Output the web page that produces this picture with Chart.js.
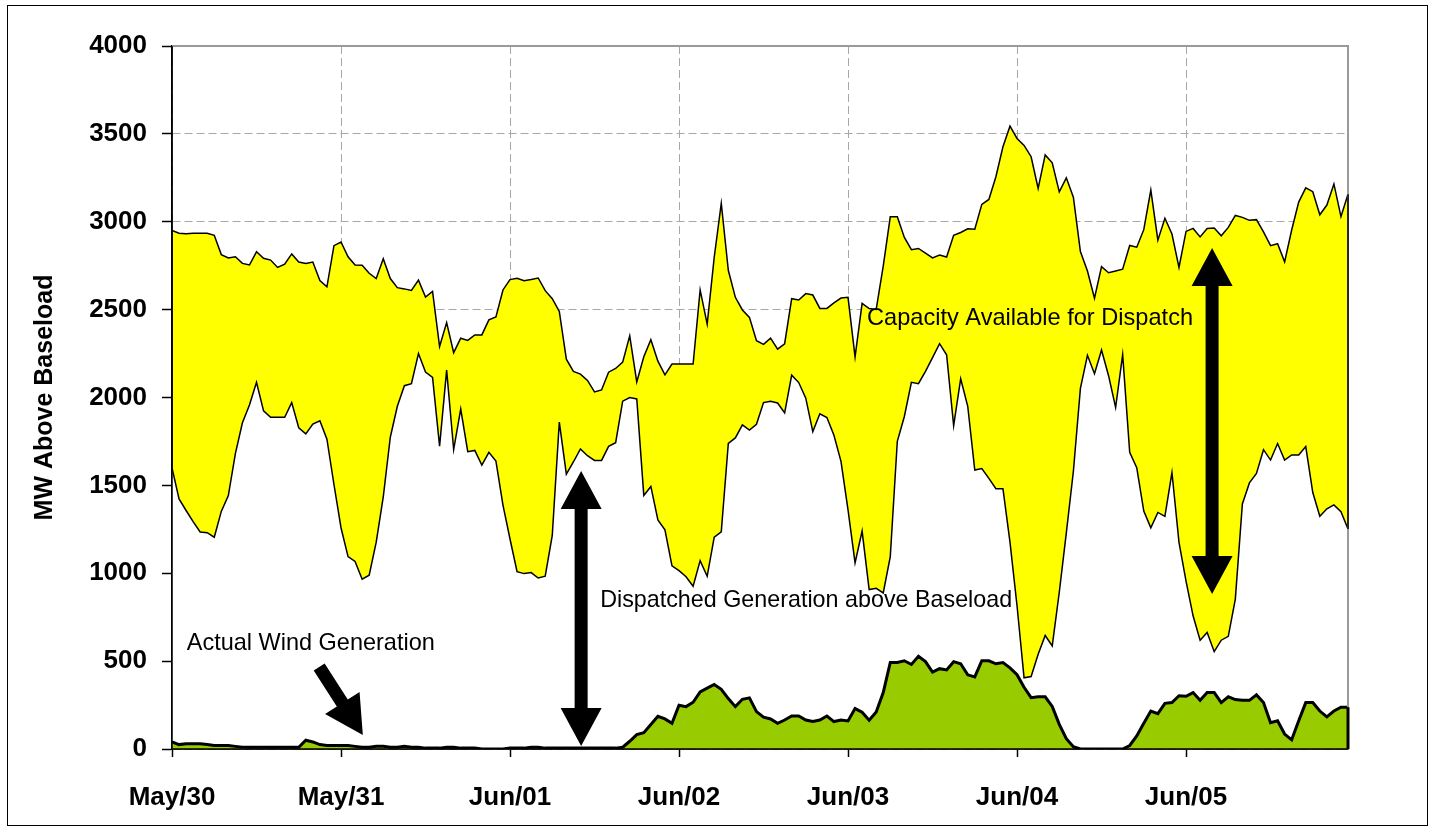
<!DOCTYPE html>
<html>
<head>
<meta charset="utf-8">
<title>MW Above Baseload</title>
<script src="https://cdn.jsdelivr.net/npm/chart.js@4.4.1/dist/chart.umd.min.js"></script>
<style>
  html, body { margin: 0; padding: 0; background: #fff; }
  canvas { display: block; }
</style>
</head>
<body>
<canvas id="chart" width="1432" height="829"></canvas>
<script>
// hourly values, May 30 00:00 .. Jun 05 23:00
const dayLabels = ['May/30', 'May/31', 'Jun/01', 'Jun/02', 'Jun/03', 'Jun/04', 'Jun/05'];

const capacityTop = [
  2950, 2935, 2932, 2935, 2935, 2935, 2923, 2813, 2794, 2801, 2763, 2754, 2829, 2792, 2782, 2740, 2759, 2817, 2771, 2763, 2771, 2665, 2630, 2864,
  2885, 2801, 2754, 2752, 2707, 2677, 2790, 2677, 2625, 2618, 2609, 2668, 2571, 2604, 2290, 2426, 2255, 2337, 2325, 2356, 2356, 2442, 2459, 2612,
  2671, 2678, 2665, 2671, 2680, 2608, 2562, 2490, 2218, 2148, 2133, 2097, 2032, 2043, 2144, 2165, 2201, 2351, 2089, 2232, 2329, 2207, 2129, 2190,
  2190, 2190, 2190, 2612, 2418, 2798, 3104, 2724, 2570, 2498, 2456, 2323, 2302, 2338, 2275, 2306, 2562, 2555, 2591, 2583, 2507, 2507, 2538, 2566,
  2570, 2231, 2536, 2506, 2501, 2747, 3028, 3028, 2911, 2841, 2848, 2822, 2794, 2810, 2799, 2923, 2939, 2960, 2958, 3099, 3127, 3256, 3427, 3544,
  3474, 3434, 3370, 3190, 3380, 3335, 3170, 3250, 3140, 2830, 2720, 2565, 2745, 2710, 2720, 2730, 2865, 2855, 2955, 3180, 2895, 3020, 2930, 2740,
  2945, 2962, 2914, 2962, 2964, 2920, 2968, 3036, 3025, 3008, 3012, 2942, 2864, 2875, 2772, 2953, 3112, 3193, 3171, 3040, 3095, 3215, 3029, 3156
];

const dispatched = [
  1599, 1423, 1357, 1294, 1235, 1231, 1205, 1352, 1442, 1681, 1856, 1957, 2086, 1924, 1887, 1887, 1887, 1971, 1828, 1793, 1849, 1868, 1763, 1505,
  1259, 1095, 1067, 966, 989, 1177, 1434, 1774, 1950, 2067, 2079, 2250, 2145, 2114, 1723, 2156, 1704, 1934, 1692, 1699, 1615, 1688, 1638, 1388,
  1195, 1009, 998, 1004, 973, 983, 1215, 1860, 1564, 1633, 1707, 1669, 1642, 1642, 1722, 1743, 1979, 2000, 1992, 1443, 1494, 1304, 1247, 1042,
  1015, 980, 926, 1072, 983, 1205, 1236, 1739, 1770, 1844, 1815, 1848, 1971, 1979, 1969, 1912, 2127, 2085, 1996, 1806, 1907, 1886, 1785, 1637,
  1360, 1059, 1240, 907, 914, 888, 1095, 1751, 1892, 2086, 2079, 2149, 2227, 2306, 2243, 1840, 2107, 1950, 1587, 1596, 1540, 1481, 1481, 1177,
  815, 405, 412, 539, 646, 587, 892, 1230, 1579, 2052, 2240, 2135, 2270, 2124, 1943, 2244, 1688, 1601, 1354, 1258, 1346, 1324, 1573, 1176,
  955, 758, 619, 663, 554, 619, 641, 853, 1394, 1514, 1568, 1703, 1644, 1738, 1644, 1673, 1673, 1721, 1459, 1324, 1367, 1389, 1350, 1252
];

const windGen = [
  40, 25, 30, 30, 30, 25, 20, 20, 20, 15, 10, 10, 10, 10, 10, 10, 10, 10, 10, 50, 40, 25, 20, 20,
  20, 20, 15, 10, 10, 15, 15, 10, 10, 15, 10, 10, 5, 5, 5, 10, 10, 5, 5, 5, 0, 0, 0, 0,
  5, 5, 5, 10, 10, 5, 5, 5, 5, 5, 5, 5, 5, 5, 5, 5, 10, 44, 82, 93, 139, 186, 171, 146,
  249, 241, 266, 325, 346, 367, 340, 287, 241, 283, 291, 213, 181, 171, 146, 165, 188, 188, 165, 156, 165, 188, 156, 165,
  160, 230, 209, 164, 211, 321, 492, 492, 502, 481, 527, 497, 438, 457, 450, 497, 485, 422, 410, 502, 502, 485, 492, 462,
  423, 351, 292, 297, 297, 242, 140, 59, 13, 0, 0, 0, 0, 0, 0, 0, 20, 74, 146, 216, 201, 260, 264, 303,
  300, 321, 277, 321, 321, 264, 297, 281, 277, 277, 308, 264, 150, 161, 85, 52, 161, 264, 264, 216, 183, 216, 238, 238
];

const hours = dispatched.map((_, i) => i);
const HOURS_PER_DAY = 24;

// annotation anchors in data units (hour, MW)
const notes = [
  { text: 'Capacity Available for Dispatch', h: 98.7, v: 2413, width: 326 },
  { text: 'Dispatched Generation above Baseload', h: 60.8, v: 808, width: 412 },
  { text: 'Actual Wind Generation', h: 2.1, v: 563, width: 248 }
];
const arrows = [
  { h1: 58.1, v1: 1582, h2: 58.1, v2: 17, both: true },
  { h1: 147.7, v1: 2851, h2: 147.7, v2: 882, both: true },
  { h1: 20.9, v1: 467, h2: 27.1, v2: 80, both: false }
];

const FONT = "'Liberation Sans', Arial, sans-serif";

function drawArrow(ctx, x1, y1, x2, y2, both) {
  const len = Math.hypot(x2 - x1, y2 - y1);
  const ux = (x2 - x1) / len, uy = (y2 - y1) / len;
  const nx = -uy, ny = ux;
  const L = 38, W = 20.5, w = 6.5;
  const p = (d, s) => [x1 + ux * d + nx * s, y1 + uy * d + ny * s];
  const pts = [];
  if (both) pts.push(p(0, 0), p(L, W), p(L, w)); else pts.push(p(0, w));
  pts.push(p(len - L, w), p(len - L, W), p(len, 0), p(len - L, -W), p(len - L, -w));
  if (both) pts.push(p(L, -w), p(L, -W)); else pts.push(p(0, -w));
  ctx.beginPath();
  pts.forEach(([px, py], i) => i ? ctx.lineTo(px, py) : ctx.moveTo(px, py));
  ctx.closePath();
  ctx.fill();
}

const overlay = {
  id: 'overlay',
  afterDatasetsDraw(chart) {
    const { ctx, chartArea: a, scales: { x, y } } = chart;
    const last = hours.length - 1;
    const xr = x.getPixelForValue(last);
    ctx.save();
    // plot area frame (top / right)
    ctx.strokeStyle = '#9a9a9a';
    ctx.lineWidth = 2;
    ctx.beginPath();
    ctx.moveTo(a.left, a.top);
    ctx.lineTo(a.right, a.top);
    ctx.lineTo(a.right, a.bottom);
    ctx.stroke();
    // closing edges of the areas
    ctx.strokeStyle = '#000';
    ctx.lineWidth = 1.5;
    ctx.beginPath();
    ctx.moveTo(xr, y.getPixelForValue(capacityTop[last]));
    ctx.lineTo(xr, y.getPixelForValue(dispatched[last]));
    ctx.moveTo(a.left, y.getPixelForValue(capacityTop[0]));
    ctx.lineTo(a.left, y.getPixelForValue(dispatched[0]));
    ctx.stroke();
    ctx.lineWidth = 3;
    ctx.beginPath();
    ctx.moveTo(xr, y.getPixelForValue(windGen[last]));
    ctx.lineTo(xr, y.getPixelForValue(0));
    ctx.stroke();
    // axis lines on top
    ctx.lineWidth = 1.5;
    ctx.beginPath();
    ctx.moveTo(a.left, a.top);
    ctx.lineTo(a.left, a.bottom);
    ctx.lineTo(a.right, a.bottom);
    ctx.stroke();

    // arrows and labels
    ctx.fillStyle = '#000';
    arrows.forEach(r => drawArrow(ctx,
      x.getPixelForValue(r.h1), y.getPixelForValue(r.v1),
      x.getPixelForValue(r.h2), y.getPixelForValue(r.v2), r.both));
    ctx.font = '24px ' + FONT;
    ctx.textBaseline = 'alphabetic';
    ctx.textAlign = 'left';
    notes.forEach(n => ctx.fillText(n.text, x.getPixelForValue(n.h), y.getPixelForValue(n.v), n.width));
    ctx.restore();
  },
  afterDraw(chart) {
    const { ctx } = chart;
    ctx.save();
    ctx.strokeStyle = '#000';
    ctx.lineWidth = 1;
    ctx.strokeRect(7.5, 5.5, 1420, 820);
    ctx.restore();
  }
};

new Chart(document.getElementById('chart'), {
  type: 'line',
  data: {
    labels: hours,
    datasets: [
      {
        label: 'Actual Wind Generation',
        data: windGen,
        borderColor: '#000',
        borderWidth: 3,
        backgroundColor: '#99cc00',
        fill: 'origin',
        pointRadius: 0,
        tension: 0
      },
      {
        label: 'Dispatched Generation above Baseload',
        data: dispatched,
        borderColor: '#000',
        borderWidth: 1.5,
        backgroundColor: '#ffffff',
        fill: 'origin',
        pointRadius: 0,
        tension: 0
      },
      {
        label: 'Capacity Available for Dispatch',
        data: capacityTop,
        borderColor: '#000',
        borderWidth: 1.5,
        backgroundColor: '#ffff00',
        fill: 1,
        pointRadius: 0,
        tension: 0
      }
    ]
  },
  options: {
    responsive: false,
    animation: false,
    events: [],
    layout: { padding: { top: 46, right: 84, bottom: 0, left: 0 } },
    plugins: {
      legend: { display: false },
      tooltip: { enabled: false },
      filler: { propagate: false }
    },
    scales: {
      x: {
        type: 'linear',
        min: 0,
        max: hours.length - 1,
        afterBuildTicks: s => { s.ticks = dayLabels.map((_, i) => ({ value: i * HOURS_PER_DAY })); },
        afterFit: s => { s.height = 80; },
        grid: {
          color: '#a8a8a8',
          tickLength: 8,
          tickColor: '#000',
          tickBorderDash: [],
          tickWidth: 1.5
        },
        border: { display: true, color: '#000', width: 1.5, dash: [8, 4] },
        ticks: {
          autoSkip: false,
          maxRotation: 0,
          padding: 25,
          color: '#000',
          font: { family: FONT, size: 26, weight: 'bold' },
          callback: v => dayLabels[v / HOURS_PER_DAY]
        }
      },
      y: {
        min: 0,
        max: 4000,
        afterFit: s => { s.width = 172; },
        grid: {
          color: '#a8a8a8',
          tickLength: 10,
          tickColor: '#000',
          tickBorderDash: [],
          tickWidth: 1.5
        },
        border: { display: true, color: '#000', width: 1.5, dash: [8, 4] },
        ticks: {
          stepSize: 500,
          padding: 15,
          color: '#000',
          font: { family: FONT, size: 26, weight: 'bold' },
          callback: v => String(v)
        },
        title: {
          display: true,
          text: 'MW Above Baseload',
          color: '#000',
          padding: { top: 30, bottom: 0 },
          font: { family: FONT, size: 25, weight: 'bold' }
        }
      }
    }
  },
  plugins: [overlay]
});
</script>
</body>
</html>
